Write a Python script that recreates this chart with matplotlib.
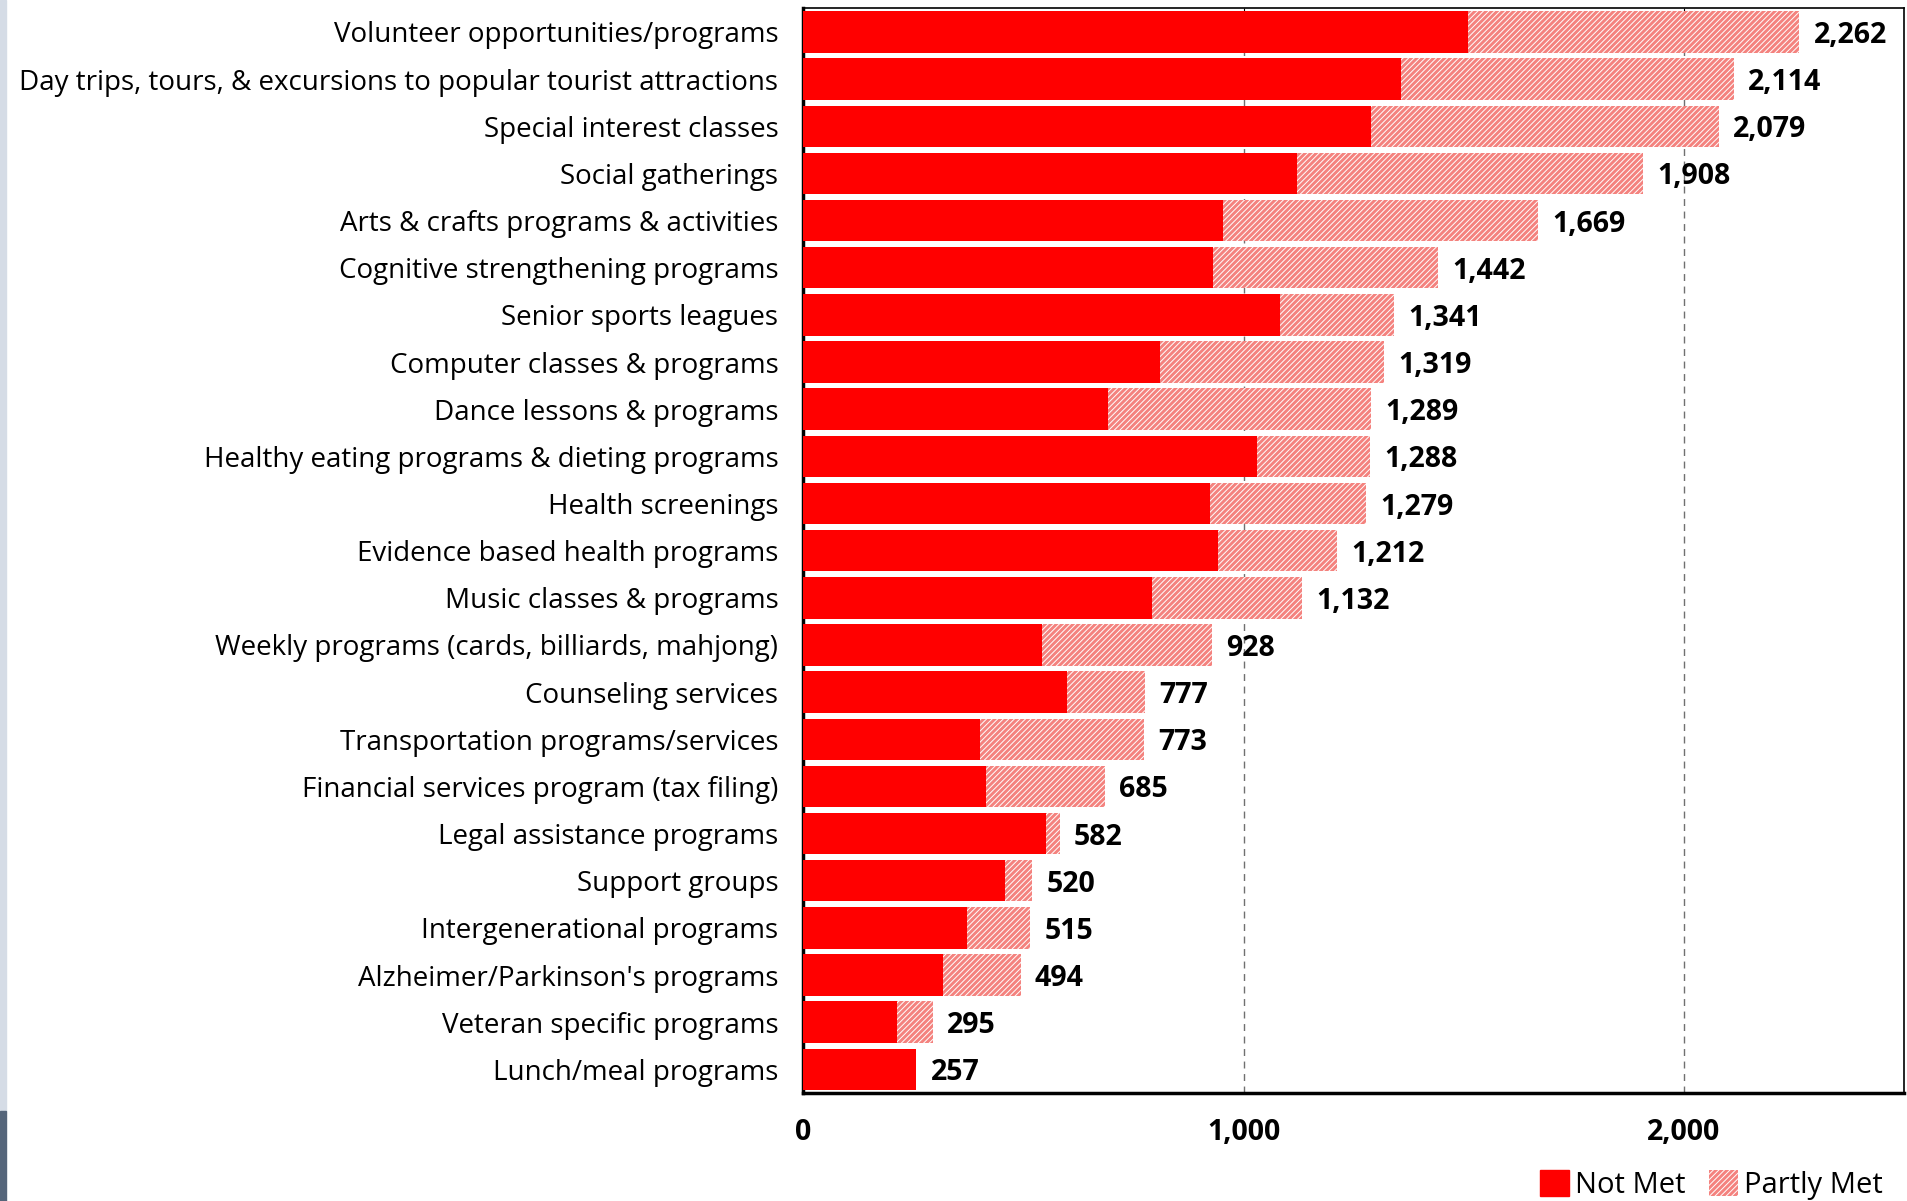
import numpy as np
import matplotlib
matplotlib.use('Agg')
import matplotlib.pyplot as plt
import matplotlib.patches as mpatches

plt.rcParams['font.family'] = ['Open Sans', 'DejaVu Sans']
plt.rcParams['hatch.linewidth'] = 0.7

categories = [
    "Volunteer opportunities/programs",
    "Day trips, tours, & excursions to popular tourist attractions",
    "Special interest classes",
    "Social gatherings",
    "Arts & crafts programs & activities",
    "Cognitive strengthening programs",
    "Senior sports leagues",
    "Computer classes & programs",
    "Dance lessons & programs",
    "Healthy eating programs & dieting programs",
    "Health screenings",
    "Evidence based health programs",
    "Music classes & programs",
    "Weekly programs (cards, billiards, mahjong)",
    "Counseling services",
    "Transportation programs/services",
    "Financial services program (tax filing)",
    "Legal assistance programs",
    "Support groups",
    "Intergenerational programs",
    "Alzheimer/Parkinson's programs",
    "Veteran specific programs",
    "Lunch/meal programs",
]
totals = [2262, 2114, 2079, 1908, 1669, 1442, 1341, 1319, 1289, 1288, 1279,
          1212, 1132, 928, 777, 773, 685, 582, 520, 515, 494, 295, 257]
not_met = [1510, 1358, 1289, 1121, 953, 931, 1083, 810, 691, 1030, 923,
           942, 793, 543, 598, 402, 416, 551, 457, 372, 317, 212, 257]
partly_met = [t - n for t, n in zip(totals, not_met)]

RED = '#FF0000'
PINK = '#F4827E'

fig = plt.figure(figsize=(19.08, 12.01), dpi=100)
ax = fig.add_axes([0.421, 0.090, 0.577, 0.903])

y = np.arange(len(categories))
ax.barh(y, not_met, height=0.88, color=RED, linewidth=0, zorder=3)
ax.barh(y, partly_met, left=not_met, height=0.88, color=PINK,
        edgecolor='white', hatch='//////', linewidth=0, zorder=3)

for yi, t in zip(y, totals):
    ax.text(t + 32, yi, "{:,}".format(t), va='center_baseline', ha='left',
            fontsize=20.5, fontweight='bold', zorder=4)

ax.set_xlim(0, 2500)
ax.set_ylim(len(categories) - 0.5, -0.5)
ax.set_xticks([0, 1000, 2000])
ax.set_xticklabels(["0", "1,000", "2,000"], fontsize=20.5, fontweight='bold')
ax.set_yticks(y)
ax.set_yticklabels(categories, fontsize=20)
ax.tick_params(axis='x', direction='in', length=4, pad=18, top=True, bottom=False)
ax.tick_params(axis='y', length=0, pad=18)

ax.grid(axis='x', color='#707070', linestyle=(0, (5, 4)), linewidth=1, zorder=0)
ax.set_axisbelow(True)
for s in ['top', 'right']:
    ax.spines[s].set_linewidth(1.2)
for s in ['left', 'bottom']:
    ax.spines[s].set_linewidth(2.5)

handles = [mpatches.Patch(color=RED, label='Not Met'),
           mpatches.Patch(facecolor=PINK, edgecolor='white', hatch='//////',
                          linewidth=0, label='Partly Met')]
fig.legend(handles=handles, loc='lower right', bbox_to_anchor=(0.996, -0.014),
           ncol=2, frameon=False, fontsize=21, handlelength=1.0, handleheight=1.0,
           handletextpad=0.2, columnspacing=0.8, borderaxespad=0.2)

# thin decorative strip on left edge
fig.patches.append(mpatches.Rectangle((0, 0.075), 0.003, 0.925, transform=fig.transFigure,
                                      color='#D5DCE6', zorder=0))
fig.patches.append(mpatches.Rectangle((0, 0), 0.003, 0.075, transform=fig.transFigure,
                                      color='#55657A', zorder=0))

fig.savefig('out.png', dpi=100)
